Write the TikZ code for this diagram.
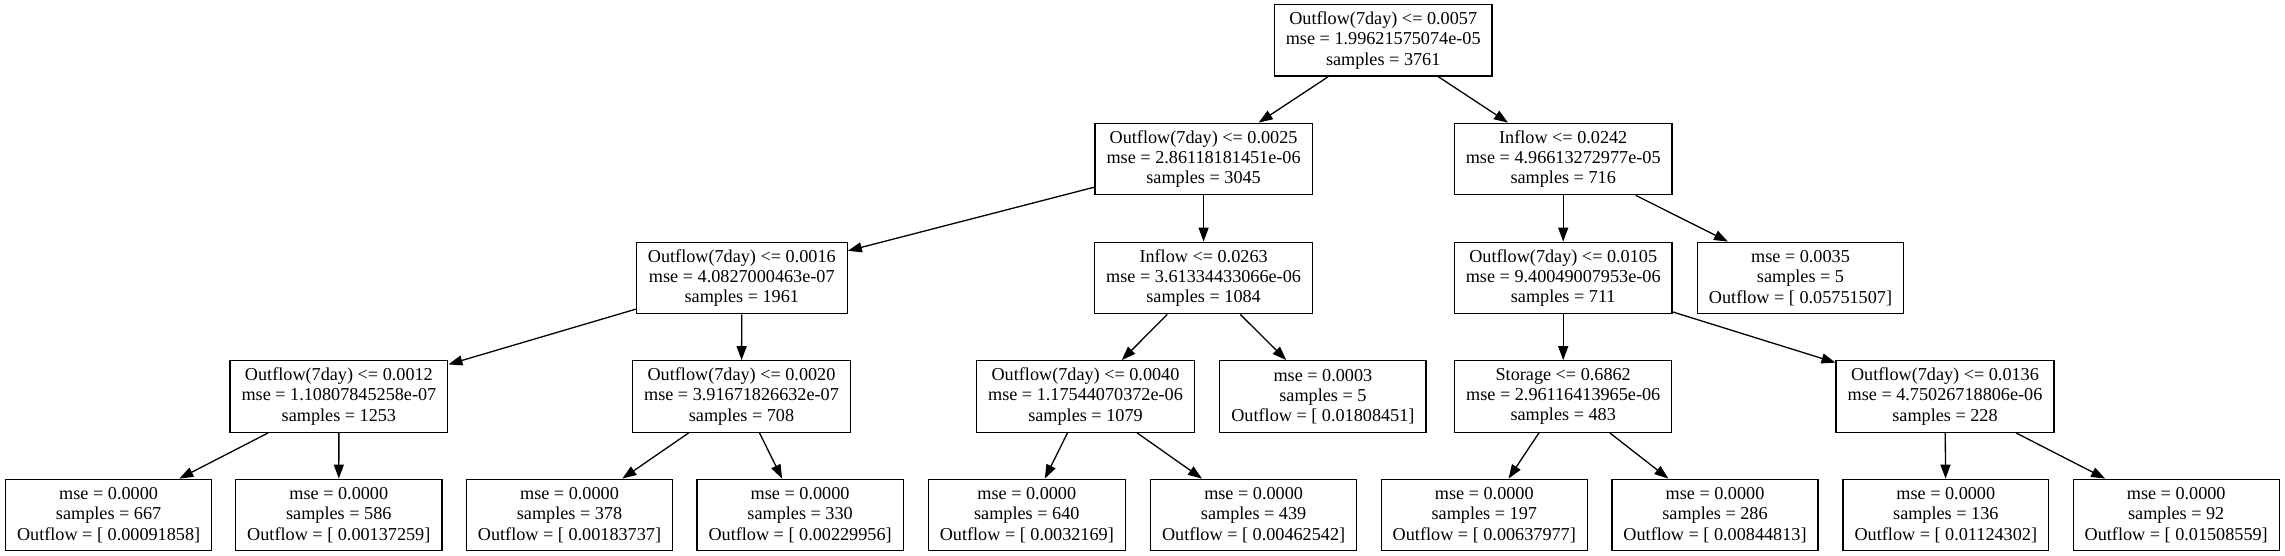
\documentclass[tikz,border=0pt]{standalone}
\usepackage{fontspec}
\setmainfont{Liberation Serif}
\usetikzlibrary{arrows.meta}
\begin{document}
\begin{tikzpicture}[x=1pt,y=-1pt,
  tbox/.style={draw, line width=1.3pt, rectangle, align=center, inner xsep=11.5pt, inner ysep=0pt,
    minimum height=71.5pt, font=\fontsize{18.2}{20.2}\selectfont},
  edge/.style={draw, line width=1.3pt, -{Triangle[length=14pt,width=10pt]}}]
\useasboundingbox (0,0) rectangle (2285,556);
% level 0
\node[tbox] (r) at (1383.2,40.4) {Outflow(7day) <= 0.0057\\mse = 1.99621575074e-05\\samples = 3761};
% level 1
\node[tbox] (a) at (1203.6,159) {Outflow(7day) <= 0.0025\\mse = 2.86118181451e-06\\samples = 3045};
\node[tbox] (b) at (1563.2,159) {Inflow <= 0.0242\\mse = 4.96613272977e-05\\samples = 716};
% level 2
\node[tbox] (c) at (741.8,278) {Outflow(7day) <= 0.0016\\mse = 4.0827000463e-07\\samples = 1961};
\node[tbox] (d) at (1203.6,278) {Inflow <= 0.0263\\mse = 3.61334433066e-06\\samples = 1084};
\node[tbox] (e) at (1563.2,278) {Outflow(7day) <= 0.0105\\mse = 9.40049007953e-06\\samples = 711};
\node[tbox] (f) at (1800.5,278) {mse = 0.0035\\samples = 5\\Outflow = [ 0.05751507]};
% level 3
\node[tbox] (g) at (338.9,396.5) {Outflow(7day) <= 0.0012\\mse = 1.10807845258e-07\\samples = 1253};
\node[tbox] (h) at (741.5,396.5) {Outflow(7day) <= 0.0020\\mse = 3.91671826632e-07\\samples = 708};
\node[tbox] (i) at (1085.5,396.5) {Outflow(7day) <= 0.0040\\mse = 1.17544070372e-06\\samples = 1079};
\node[tbox] (j) at (1322.9,396.5) {mse = 0.0003\\samples = 5\\Outflow = [ 0.01808451]};
\node[tbox] (k) at (1563.2,396.5) {Storage <= 0.6862\\mse = 2.96116413965e-06\\samples = 483};
\node[tbox] (l) at (1945,396.5) {Outflow(7day) <= 0.0136\\mse = 4.75026718806e-06\\samples = 228};
% level 4
\node[tbox] (l1) at (108.6,515) {mse = 0.0000\\samples = 667\\Outflow = [ 0.00091858]};
\node[tbox] (l2) at (338.8,515) {mse = 0.0000\\samples = 586\\Outflow = [ 0.00137259]};
\node[tbox] (l3) at (569.5,515) {mse = 0.0000\\samples = 378\\Outflow = [ 0.00183737]};
\node[tbox] (l4) at (800.1,515) {mse = 0.0000\\samples = 330\\Outflow = [ 0.00229956]};
\node[tbox] (l5) at (1026.8,515) {mse = 0.0000\\samples = 640\\Outflow = [ 0.0032169]};
\node[tbox] (l6) at (1253.6,515) {mse = 0.0000\\samples = 439\\Outflow = [ 0.00462542]};
\node[tbox] (l7) at (1484.3,515) {mse = 0.0000\\samples = 197\\Outflow = [ 0.00637977]};
\node[tbox] (l8) at (1715,515) {mse = 0.0000\\samples = 286\\Outflow = [ 0.00844813]};
\node[tbox] (l9) at (1945.8,515) {mse = 0.0000\\samples = 136\\Outflow = [ 0.01124302]};
\node[tbox] (l10) at (2176.2,515) {mse = 0.0000\\samples = 92\\Outflow = [ 0.01508559]};
% edges
\path[edge] (r) -- (a);
\path[edge] (r) -- (b);
\path[edge] (a) -- (c);
\path[edge] (a) -- (d);
\path[edge] (b) -- (e);
\path[edge] (b) -- (f);
\path[edge] (c) -- (g);
\path[edge] (c) -- (h);
\path[edge] (d) -- (i);
\path[edge] (d) -- (j);
\path[edge] (e) -- (k);
\path[edge] (e) -- (l);
\path[edge] (g) -- (l1);
\path[edge] (g) -- (l2);
\path[edge] (h) -- (l3);
\path[edge] (h) -- (l4);
\path[edge] (i) -- (l5);
\path[edge] (i) -- (l6);
\path[edge] (k) -- (l7);
\path[edge] (k) -- (l8);
\path[edge] (l) -- (l9);
\path[edge] (l) -- (l10);
\end{tikzpicture}
\end{document}
